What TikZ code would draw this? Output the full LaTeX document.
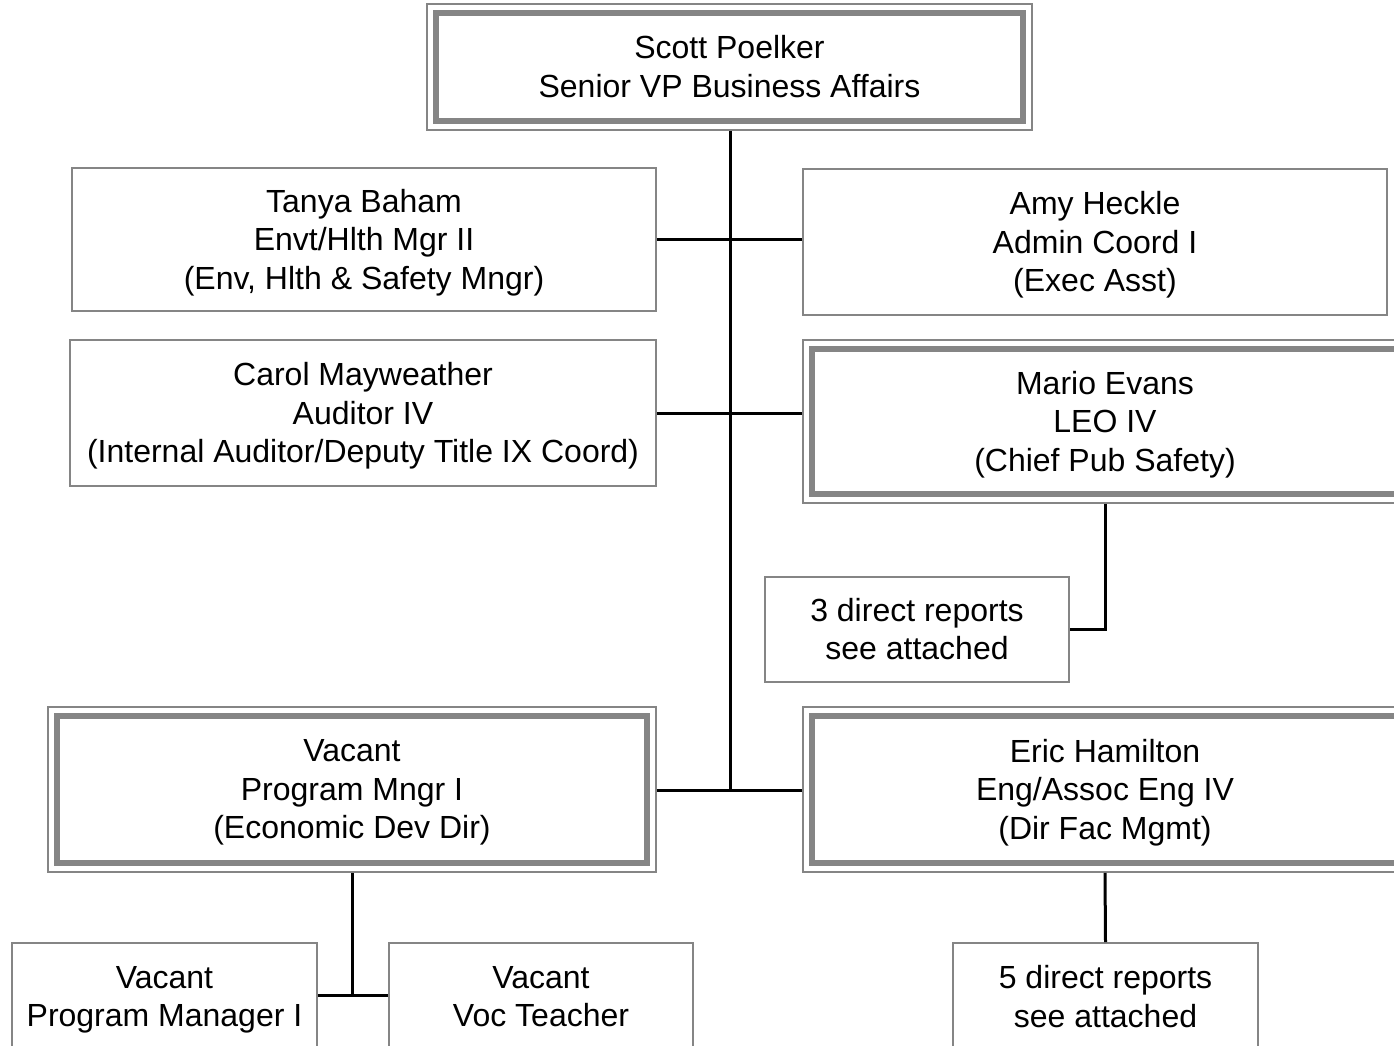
\documentclass[tikz,border=0pt]{standalone}
\usepackage{fontspec}
\setmainfont{Liberation Sans}
\newcommand{\lnstrut}{\rule[-7pt]{0pt}{37pt}}
\begin{document}
\begin{tikzpicture}[x=1pt,y=-1pt,
  txt/.style={align=center, inner sep=0pt, font=\fontsize{32}{38.5}\selectfont,
    execute at begin node=\lnstrut, execute at end node=\lnstrut, yshift=-3pt},
  low/.style={yshift=-1.5pt},
  box/.style={draw=black!48, line width=1.8pt, fill=white, inner sep=0pt},
  dblbox/.style={box, path picture={\draw[line width=5.5pt, black!48]
      ([shift={(9pt,-9pt)}]path picture bounding box.north west) rectangle
      ([shift={(-9pt,9pt)}]path picture bounding box.south east);}},
  conn/.style={line width=3pt, black}]
\useasboundingbox (0,0) rectangle (1394,1045);
\clip (0,0) rectangle (1394,1045);
\coordinate (jn) at (730,790);
% boxes
\node[dblbox, minimum width=605pt, minimum height=126pt] (top) at (729.5,67) {};
\node[box, minimum width=584pt, minimum height=143pt] (tanya) at (364,239.5) {};
\node[box, minimum width=584pt, minimum height=146pt] (amy) at (1095,242) {};
\node[box, minimum width=586pt, minimum height=146pt] (carol) at (363,413) {};
\node[dblbox, minimum width=604pt, minimum height=163pt] (mario) at (1105,421.5) {};
\node[box, minimum width=304pt, minimum height=105pt] (three) at (917,629.5) {};
\node[dblbox, minimum width=608pt, minimum height=165pt] (vpm) at (352,789.5) {};
\node[dblbox, minimum width=604pt, minimum height=165pt] (eric) at (1105,789.5) {};
\node[box, minimum width=305pt, minimum height=105pt] (five) at (1105.5,995.5) {};
\node[box, minimum width=305pt, minimum height=105pt] (pm1) at (164.5,995.5) {};
\node[box, minimum width=304pt, minimum height=105pt] (voc) at (541,995.5) {};
% texts
\node[txt] (topT) at (top) {Scott Poelker\\Senior VP Business Affairs};
\node[txt] (tanyaT) at (tanya) {Tanya Baham\\Envt/Hlth Mgr II\\(Env, Hlth \& Safety Mngr)};
\node[txt] (amyT) at (amy) {Amy Heckle\\Admin Coord I\\(Exec Asst)};
\node[txt] (carolT) at (carol) {Carol Mayweather\\Auditor IV\\(Internal Auditor/Deputy Title IX Coord)};
\node[txt] (marioT) at (mario) {Mario Evans\\LEO IV\\(Chief Pub Safety)};
\node[txt] (threeT) at (three) {3 direct reports\\see attached};
\node[txt] (vpmT) at (vpm) {Vacant\\Program Mngr I\\(Economic Dev Dir)};
\node[txt] (ericT) at (eric) {Eric Hamilton\\Eng/Assoc Eng IV\\(Dir Fac Mgmt)};
\node[txt, low] (fiveT) at (five) {5 direct reports\\see attached};
\node[txt, low] (pm1T) at (pm1) {Vacant\\Program Manager I};
\node[txt, low] (vocT) at (voc) {Vacant\\Voc Teacher};
% connectors
\draw[conn] (top.south -| jn) -- (jn);
\draw[conn] (tanya.east) -- (tanya.east -| amy.west);
\draw[conn] (carol.east) -- (carol.east -| mario.west);
\draw[conn] (vpm.east |- jn) -- (eric.west |- jn);
\draw[conn] (mario.south) |- (three.east);
\draw[conn] (eric.south) -- (five.north);
\draw[conn] (vpm.south) -- (vpm.south |- pm1.east);
\draw[conn] (pm1.east) -- (voc.west);
\end{tikzpicture}
\end{document}
